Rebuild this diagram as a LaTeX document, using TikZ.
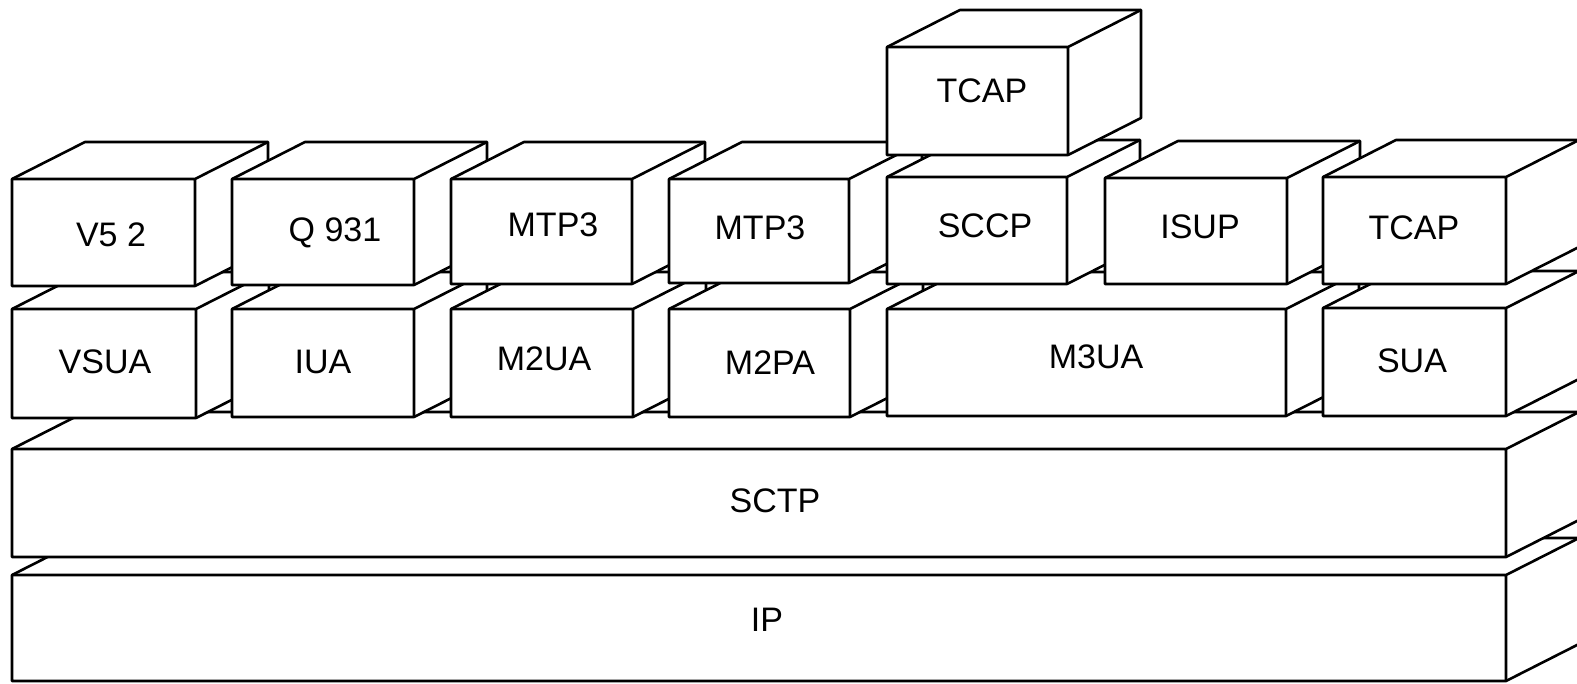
\documentclass[tikz,border=0pt]{standalone}
\usepackage{fontspec}
\setmainfont{Liberation Sans}

\begin{document}
\begin{tikzpicture}[x=1pt, y=-1pt, line width=2.6pt, line join=round,
	lbl/.style={font=\fontsize{34}{40}\selectfont, inner sep=0pt}]
		\useasboundingbox (0,0) rectangle (1577,683);
		\clip (0,0) rectangle (1577,683);
		\def\dx{73}
		\def\dy{-37}
		% blocks, drawn from the bottom layer up and from left to right
		\foreach \xa/\ya/\xb/\yb/\lx/\ly/\txt/\nm in {
			12/575/1506/681/767/620/IP/ip,
			12/449/1506/557/775/501/SCTP/sctp,
			12/309/196/418/105/362/VSUA/vsua,
			232/309/414/417/323/362/IUA/iua,
			451/309/633/417/544/359/M2UA/mtwoua,
			669/309/850/417/770/363/M2PA/mtwopa,
			887/309/1286/416/1096/357/M3UA/mthreeua,
			1323/308/1506/416/1412/361/SUA/sua,
			12/179/195/286/111/235/V5 2/vfive,
			232/179/414/285/335/233/Q 931/qnine,
			451/179/632/284/553/225/MTP3/mtpa,
			669/179/849/283/760/228/MTP3/mtpb,
			887/177/1067/284/985/226/SCCP/sccp,
			1105/178/1287/284/1200/227/ISUP/isup,
			1323/177/1506/284/1414/228/TCAP/tcapb,
			887/47/1068/155/982/91/TCAP/tcapa} {
			\filldraw [fill=white] (\xa,\yb) -- (\xa,\ya) -- ++(\dx,\dy) -- (\xb+\dx,\ya+\dy) -- (\xb+\dx,\yb+\dy) -- (\xb,\yb) -- cycle;
			\draw (\xa,\ya) -- (\xb,\ya) -- (\xb,\yb) (\xb,\ya) -- ++(\dx,\dy);
			\node [lbl] (\nm) at (\lx,\ly) {\txt};
		}
		\end{tikzpicture}
\end{document}
